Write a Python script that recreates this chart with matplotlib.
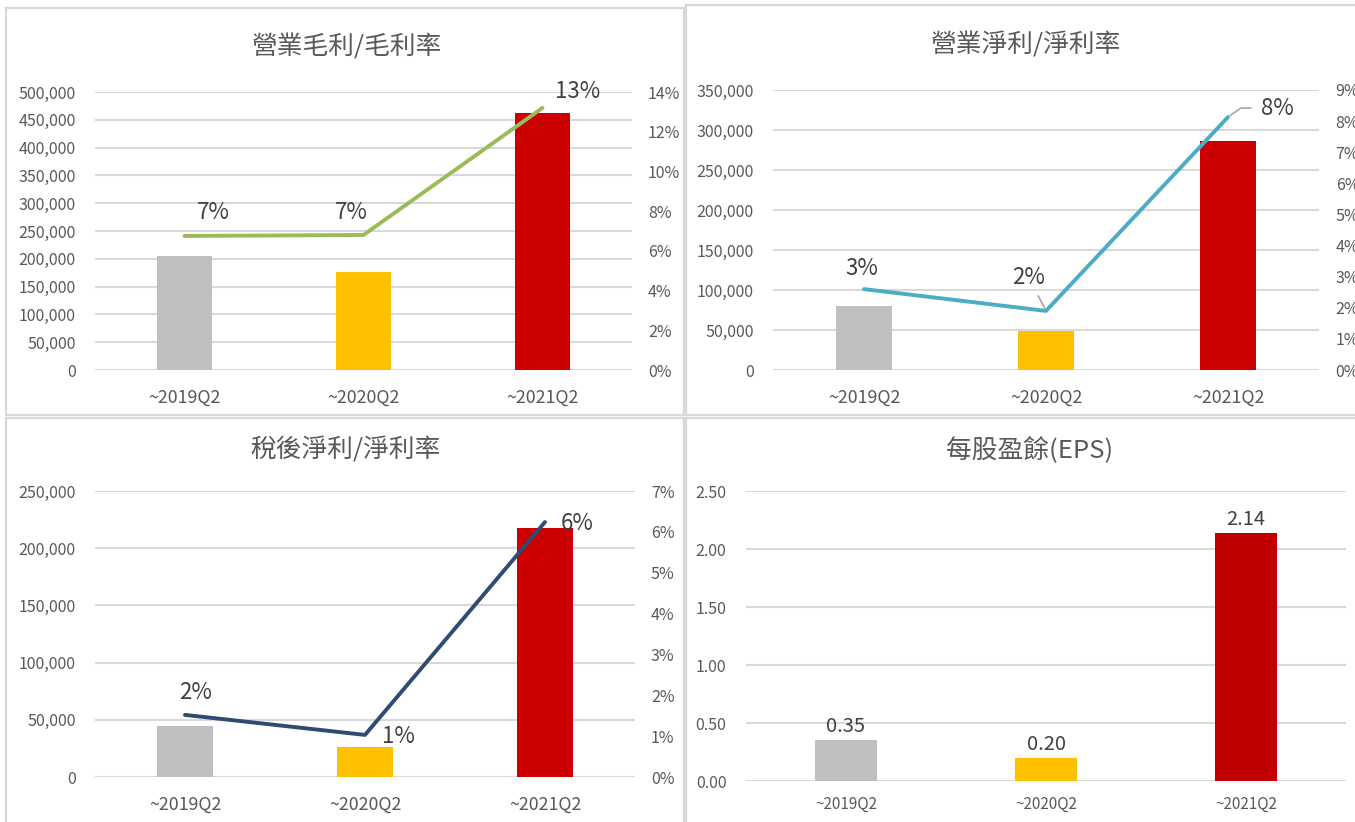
import matplotlib
matplotlib.use("Agg")
import matplotlib.pyplot as plt
from matplotlib.ticker import FuncFormatter, MultipleLocator
from matplotlib.lines import Line2D

plt.rcParams['font.family'] = ['Noto Sans CJK TC', 'DejaVu Sans']

# ---------------- data ----------------
categories = ["~2019Q2", "~2020Q2", "~2021Q2"]

gross_profit = [205000, 176000, 462000]
gross_margin = [0.0675, 0.068, 0.132]

op_profit = [80000, 49000, 286000]
op_margin = [0.026, 0.019, 0.0813]

net_profit = [45000, 26000, 218000]
net_margin = [0.0152, 0.0103, 0.0624]

eps = [0.35, 0.20, 2.14]

titles = ["營業毛利/毛利率", "營業淨利/淨利率", "稅後淨利/淨利率", "每股盈餘(EPS)"]

bar_colors = ["#BFBFBF", "#FFC000", "#CC0000"]
bar_colors_eps = ["#BFBFBF", "#FFC000", "#C00000"]

W, H = 1355, 822
fig = plt.figure(figsize=(W / 100, H / 100), dpi=100)
fig.patch.set_facecolor("white")

GRID = "#D9D9D9"
TICK = "#595959"
LAB = "#404040"


def rect(l, t, r, b):
    return [l / W, 1 - b / H, (r - l) / W, (b - t) / H]


def fig_line(x0, y0, x1, y1):
    fig.add_artist(Line2D([x0 / W, x1 / W], [1 - y0 / H, 1 - y1 / H],
                          transform=fig.transFigure, color=GRID, lw=1.6))


# panel borders
fig_line(6, 8, 684, 8); fig_line(6, 8, 6, 415); fig_line(684, 8, 684, 415); fig_line(6, 415, 684, 415)
fig_line(686, 5, 1355, 5); fig_line(686, 5, 686, 415); fig_line(686, 415, 1355, 415)
fig_line(6, 418, 684, 418); fig_line(6, 418, 6, 822); fig_line(684, 418, 684, 822)
fig_line(686, 418, 1355, 418); fig_line(686, 418, 686, 822)


def style_axis(ax):
    for s in ax.spines.values():
        s.set_visible(False)
    ax.tick_params(axis='both', length=0, colors=TICK)


def combo(box, bars, rates, ymax, ystep, rmax, rstep, lcolor, title, tpos,
          offsets, leaders=None, conn=None, lw=2.8, rpad=11.5):
    ax = fig.add_axes(rect(*box))
    x = list(range(len(categories)))
    ax.bar(x, bars, width=0.31, color=bar_colors, zorder=2)
    ax.set_xlim(-0.5, 2.5)
    ax.set_ylim(0, ymax)
    ax.yaxis.set_major_locator(MultipleLocator(ystep))
    ax.yaxis.set_major_formatter(FuncFormatter(lambda v, p: f"{v:,.0f}"))
    ax.grid(axis='y', color=GRID, lw=1.5, zorder=0)
    ax.set_axisbelow(True)
    ax.set_xticks(x)
    ax.set_xticklabels(categories, fontsize=12.8)
    ax.tick_params(axis='x', pad=13.5)
    ax.tick_params(axis='y', pad=14, labelsize=11.5)
    style_axis(ax)
    ax2 = ax.twinx()
    ax2.set_ylim(0, rmax)
    ax2.yaxis.set_major_locator(MultipleLocator(rstep))
    ax2.yaxis.set_major_formatter(FuncFormatter(lambda v, p: f"{v*100:.0f}%"))
    ax2.tick_params(axis='y', pad=rpad, labelsize=11.5)
    style_axis(ax2)
    ax2.plot(x, rates, color=lcolor, lw=lw, solid_capstyle='round', zorder=3)
    for i, (r, off) in enumerate(zip(rates, offsets)):
        ap = None
        if leaders and leaders[i]:
            ap = dict(arrowstyle='-', color='#A6A6A6', lw=1.2, shrinkA=leaders[i], shrinkB=2,
                      connectionstyle=(conn[i] if conn and conn[i] else 'arc3'))
        ax2.annotate(f"{r*100:.0f}%", xy=(i, r), xytext=off, textcoords='offset pixels',
                     ha='center', va='center', fontsize=16, color=LAB, arrowprops=ap)
    fig.text(tpos[0] / W, 1 - tpos[1] / H, title, ha='center', va='center',
             fontsize=18.5, color=TICK)
    return ax


combo((95, 92, 632, 370), gross_profit, gross_margin, 500000, 50000, 0.14, 0.02,
      "#9BBB59", titles[0], (347, 47),
      [(29, 23), (-12, 22), (35, 16)])

combo((773, 90, 1319, 370), op_profit, op_margin, 350000, 50000, 0.09, 0.01,
      "#4BACC6", titles[1], (1026, 45),
      [(-2, 21), (-17, 33), (49, 9)], leaders=[0, 3, 5],
      conn=[None, None, 'angle,angleA=0,angleB=35,rad=0'], rpad=12)

combo((95, 491, 635, 777), net_profit, net_margin, 250000, 50000, 0.07, 0.01,
      "#2E4B72", titles[2], (346, 450),
      [(11, 22), (33, -2), (32, -1)])

# EPS panel
ax = fig.add_axes(rect(746, 491, 1346, 781))
x = list(range(len(categories)))
ax.bar(x, eps, width=0.31, color=bar_colors_eps, zorder=2)
ax.set_xlim(-0.5, 2.5)
ax.set_ylim(0, 2.5)
ax.yaxis.set_major_locator(MultipleLocator(0.5))
ax.yaxis.set_major_formatter(FuncFormatter(lambda v, p: f"{v:.2f}"))
ax.grid(axis='y', color=GRID, lw=1.5, zorder=0)
ax.set_axisbelow(True)
ax.set_xticks(x)
ax.set_xticklabels(categories, fontsize=11)
ax.tick_params(axis='x', pad=11)
ax.tick_params(axis='y', pad=14, labelsize=11.5)
style_axis(ax)
for i, v in enumerate(eps):
    ax.annotate(f"{v:.2f}", xy=(i, v), xytext=(0, 3), textcoords='offset pixels',
                ha='center', va='bottom', fontsize=14.5, color=LAB)
fig.text(1030 / W, 1 - 450 / H, titles[3], ha='center', va='center', fontsize=18.5, color=TICK)

fig.savefig("out.png", dpi=100, facecolor="white")
